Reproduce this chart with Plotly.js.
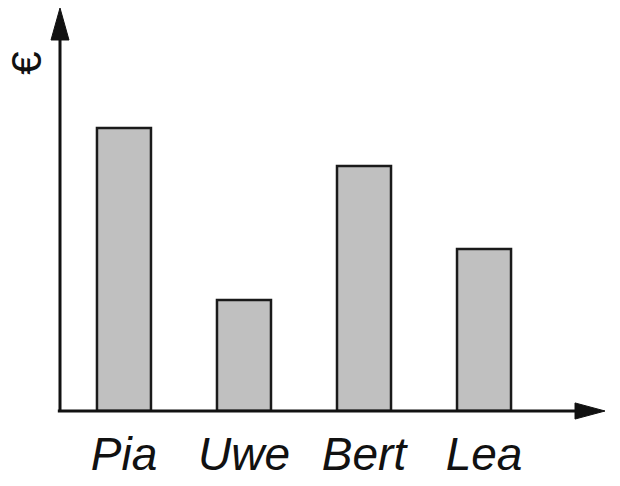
<!DOCTYPE html>
<html><head><meta charset="utf-8">
<script src="https://cdn.plot.ly/plotly-3.0.1.min.js"></script>
<style>html,body{margin:0;padding:0;background:#fff;}</style>
</head><body>
<div id="chart" style="width:620px;height:486px;"></div>
<script>
const names = ["Pia", "Uwe", "Bert", "Lea"];
const values = [5.0, 1.96, 4.33, 2.86];
const yLabel = "€";

const trace = {
  type: "bar",
  x: names,
  y: values,
  width: 0.45,
  marker: {color: "#c0c0c0", line: {color: "#1a1a1a", width: 2.5}},
  hoverinfo: "none"
};

const layout = {
  width: 620, height: 486,
  margin: {l: 60, r: 15, t: 8, b: 75},
  paper_bgcolor: "#fff", plot_bgcolor: "#fff",
  showlegend: false,
  xaxis: {
    type: "category", range: [-0.533, 4.008],
    showgrid: false, zeroline: false, showline: false, ticks: "",
    tickfont: {family: "Liberation Sans, Arial, sans-serif", size: 46, style: "italic", color: "#111"},
    ticklabelstandoff: 12, fixedrange: true
  },
  yaxis: {
    range: [0, 7.12], showgrid: false, zeroline: false, showline: false,
    showticklabels: false, ticks: "", fixedrange: true
  },
  shapes: [
    {type: "line", xref: "paper", yref: "paper", x0: 0, x1: 0, y0: 0, y1: 0.93, line: {color: "#111", width: 3}},
    {type: "line", xref: "paper", yref: "paper", x0: -0.004, x1: 0.955, y0: 0, y1: 0, line: {color: "#111", width: 3}},
    {type: "path", xref: "paper", yref: "paper",
     path: "M 0 1 L -0.0165 0.9206 L 0.0165 0.9206 Z", fillcolor: "#111", line: {color: "#111", width: 1}},
    {type: "path", xref: "paper", yref: "paper",
     path: "M 1 0 L 0.945 0.02 L 0.945 -0.02 Z", fillcolor: "#111", line: {color: "#111", width: 1}}
  ],
  annotations: [
    {text: yLabel, xref: "paper", yref: "paper", x: -0.062, y: 0.862, showarrow: false,
     textangle: -90, xanchor: "center", yanchor: "middle", borderpad: 0,
     font: {family: "Liberation Sans, Arial, sans-serif", size: 42, color: "#111"}}
  ]
};

Plotly.newPlot("chart", [trace], layout, {displayModeBar: false, staticPlot: true});
</script>
</body></html>
